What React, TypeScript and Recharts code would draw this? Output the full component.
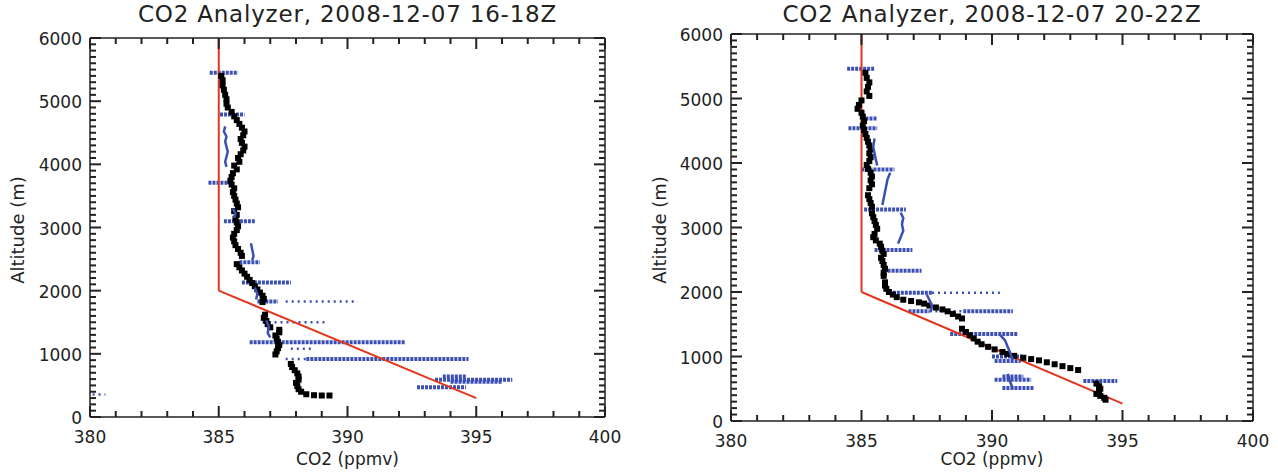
import { ComposedChart, Scatter, XAxis, YAxis, ReferenceLine } from 'recharts';

const co2Labels = [380, 385, 390, 395, 400];
const altLabels = [0, 1000, 2000, 3000, 4000, 5000, 6000];

// minor tick positions (1 ppmv, 100 m)
const co2Ticks = Array.from({ length: 21 }, (_, i) => 380 + i);
const altTicks = Array.from({ length: 61 }, (_, i) => i * 100);

// ---- 16-18Z flight: [co2 ppmv, altitude m]
const blackA: [number, number][] = [
  [385.1, 5400], [385.15, 5330], [385.15, 5250], [385.2, 5180], [385.25, 5100], [385.3, 5030],
  [385.3, 4960], [385.35, 4900], [385.5, 4830], [385.6, 4760], [385.7, 4700], [385.8, 4640],
  [385.9, 4580], [386.0, 4520], [385.95, 4460], [385.85, 4400], [385.9, 4340], [386.0, 4280],
  [385.95, 4220], [385.85, 4160], [385.75, 4100], [385.8, 4040], [385.6, 3980], [385.7, 3920],
  [385.55, 3860], [385.5, 3800], [385.45, 3740], [385.5, 3680], [385.6, 3620], [385.55, 3560],
  [385.6, 3500], [385.65, 3440], [385.7, 3380], [385.75, 3320], [385.6, 3260], [385.7, 3200],
  [385.65, 3140], [385.7, 3080], [385.75, 3020], [385.7, 2960], [385.6, 2900], [385.55, 2840],
  [385.6, 2780], [385.65, 2720], [385.75, 2660], [385.85, 2600], [385.9, 2550],
  [385.7, 2420], [385.8, 2370], [385.9, 2320], [386.0, 2270], [386.1, 2220], [386.2, 2170],
  [386.3, 2120], [386.4, 2070], [386.5, 2020], [386.6, 1970], [386.7, 1920], [386.75, 1870],
  [386.7, 1820],
  [386.8, 1620], [386.75, 1570], [386.85, 1520], [386.9, 1470], [387.0, 1420], [387.35, 1380],
  [387.35, 1340], [387.2, 1290], [387.25, 1240], [387.3, 1190], [387.35, 1140], [387.3, 1090],
  [387.25, 1040], [387.2, 990],
  [387.8, 840], [387.85, 790], [387.95, 740], [388.05, 690], [388.1, 640], [388.1, 590],
  [388.0, 540], [388.05, 490], [388.1, 440], [388.2, 400], [388.4, 360], [388.7, 345],
  [389.0, 340], [389.3, 340],
];
// level legs: [altitude, co2 from, co2 to]
const legsA: [number, number, number][] = [
  [5450, 384.65, 385.75], [4790, 385.05, 386.0], [3710, 384.6, 385.45], [3100, 385.2, 386.4],
  [2450, 385.8, 386.6], [2130, 385.9, 387.8], [1830, 386.5, 387.3], [1185, 386.2, 392.25],
  [920, 388.4, 394.7], [640, 393.7, 394.6], [590, 393.4, 396.4], [560, 394.0, 396.0],
  [470, 392.7, 394.6],
];
const thinLegsA: [number, number, number][] = [
  [1830, 387.6, 390.4], [1500, 386.7, 389.2], [920, 387.6, 388.4], [1080, 387.8, 388.6],
  [355, 380.1, 380.6],
];
const tracesA: [number, number][][] = [
  [[385.25, 4600], [385.2, 4520], [385.3, 4440], [385.25, 4360], [385.3, 4280], [385.35, 4200], [385.3, 4120], [385.25, 4040], [385.3, 3960]],
  [[385.55, 3300], [385.65, 3220], [385.6, 3150]],
  [[386.25, 2750], [386.3, 2650], [386.35, 2550], [386.3, 2480]],
  [[386.4, 2050], [386.5, 1950], [386.45, 1860]],
  [[386.85, 1530], [386.95, 1420], [386.9, 1330], [387.0, 1260]],
];
const modelA: [number, number][] = [[385, 6000], [385, 2000], [395, 300]];

// ---- 20-22Z flight
const blackB: [number, number][] = [
  [385.15, 5400], [385.2, 5320], [385.3, 5250], [385.25, 5180], [385.2, 5110], [385.3, 5040],
  [385.0, 4970], [384.9, 4900], [384.85, 4840], [385.0, 4780], [385.05, 4720], [385.1, 4650],
  [385.05, 4580], [385.1, 4510], [385.15, 4450], [385.2, 4390], [385.25, 4330], [385.3, 4270],
  [385.35, 4210], [385.3, 4150], [385.35, 4090], [385.3, 4030], [385.2, 3970], [385.25, 3910],
  [385.35, 3850], [385.4, 3790], [385.35, 3730], [385.4, 3670], [385.3, 3610],
  [385.25, 3500], [385.3, 3440], [385.35, 3380], [385.4, 3320],
  [385.4, 3220], [385.45, 3160], [385.5, 3100], [385.55, 3040], [385.6, 2980], [385.5, 2900],
  [385.45, 2850], [385.55, 2800], [385.7, 2750], [385.75, 2700], [385.8, 2640], [385.85, 2590],
  [385.75, 2530], [385.8, 2480], [385.85, 2420], [385.9, 2360], [385.85, 2300], [385.85, 2250],
  [385.9, 2150], [385.9, 2100], [385.95, 2050], [386.05, 2000], [386.2, 1960], [386.35, 1920],
  [386.6, 1880], [386.9, 1860], [387.2, 1840], [387.4, 1820], [387.6, 1790], [387.85, 1760],
  [388.1, 1730], [388.3, 1700], [388.5, 1660], [388.7, 1620], [388.85, 1590],
  [388.85, 1430], [389.0, 1380], [389.15, 1330], [389.3, 1280], [389.45, 1230], [389.6, 1190],
  [389.85, 1150], [390.1, 1110], [390.4, 1070], [390.6, 1040], [390.85, 1010], [391.2, 980],
  [391.5, 960], [391.8, 940], [392.1, 910], [392.4, 880], [392.7, 850], [393.0, 820], [393.3, 790],
  [394.0, 580], [394.1, 540], [394.15, 500], [394.1, 460], [394.0, 420], [394.15, 390],
  [394.3, 360], [394.35, 330],
];
const legsB: [number, number, number][] = [
  [5460, 384.45, 385.5], [4690, 385.0, 385.6], [4540, 384.5, 385.6], [3900, 385.0, 386.26],
  [3280, 385.1, 386.7], [2650, 385.5, 386.95], [2330, 386.0, 387.3], [1990, 386.2, 387.7],
  [1700, 386.8, 387.6], [1700, 388.9, 390.8], [1350, 388.4, 391.0], [1000, 390.0, 391.2],
  [930, 390.1, 391.1], [690, 390.4, 391.2], [640, 390.1, 391.5], [510, 390.4, 391.6],
  [620, 393.5, 394.8],
];
const thinLegsB: [number, number, number][] = [
  [1990, 387.7, 390.3], [1700, 387.6, 388.9],
];
const tracesB: [number, number][][] = [
  [[385.5, 4380], [385.45, 4250], [385.5, 4150], [385.55, 4050], [385.6, 3960]],
  [[386.1, 3850], [386.0, 3750], [385.95, 3650], [385.9, 3550], [385.85, 3450], [385.8, 3350]],
  [[386.5, 3230], [386.6, 3150], [386.55, 3050], [386.6, 2950], [386.5, 2850], [386.4, 2750]],
  [[387.5, 1960], [387.6, 1880], [387.7, 1780], [387.65, 1690]],
  [[390.3, 1340], [390.5, 1250], [390.6, 1150], [390.7, 1050], [390.8, 950]],
  [[390.6, 730], [390.7, 600], [390.8, 500]],
];
const modelB: [number, number][] = [[385, 6000], [385, 2000], [395, 270]];

const INK = '#222';
const BLUE = '#3c50b4';
const RED = '#e4361f';
const FONT = '"DejaVu Sans", sans-serif';
const X0 = 380, X1 = 400, Y0 = 0, Y1 = 6000;

const toPts = (a: [number, number][]) => a.map(([co2, alt]) => ({ co2, alt }));

function BottomLabel({ x, y, payload }: any) {
  if (!co2Labels.includes(payload.value)) return <g />;
  return <text x={x} y={y + 26} textAnchor="middle" fontSize={17} fontFamily={FONT} fill="#222">{payload.value}</text>;
}
function LeftLabel({ x, y, payload }: any) {
  if (!altLabels.includes(payload.value)) return <g />;
  return <text x={x - 8} y={y + 7} textAnchor="end" fontSize={17} fontFamily={FONT} fill="#222">{payload.value}</text>;
}

const tickLen = (major: boolean) => (major ? 11 : 6);

// axis band sizes; margins below are reduced by these so the plot box lands where wanted
const AX_B = 30;
const AX_T = 10;
const AX_L = 60;
const AX_R = 10;

type PanelProps = {
  left: number;
  width: number;
  box: { top: number; right: number; bottom: number; left: number };
  title: string;
  black: [number, number][];
  legs: [number, number, number][];
  thinLegs: [number, number, number][];
  traces: [number, number][][];
  model: [number, number][];
  yTitleX: number;
};

// inward frame ticks (IDL style) on all four sides, laid over the chart box
function FrameTicks({ width, box }: { width: number; box: PanelProps['box'] }) {
  const pl = box.left;
  const pt = box.top;
  const pw = width - box.left - box.right;
  const ph = 475 - box.top - box.bottom;
  const pr = pl + pw;
  const pb = pt + ph;
  const lines: JSX.Element[] = [];
  co2Ticks.forEach((v) => {
    const x = pl + ((v - X0) / (X1 - X0)) * pw;
    const len = tickLen(co2Labels.includes(v));
    lines.push(<line key={'xb' + v} x1={x} x2={x} y1={pb} y2={pb - len} />);
    lines.push(<line key={'xt' + v} x1={x} x2={x} y1={pt} y2={pt + len} />);
  });
  altTicks.forEach((v) => {
    const y = pt + ((Y1 - v) / (Y1 - Y0)) * ph;
    const len = tickLen(altLabels.includes(v));
    lines.push(<line key={'yl' + v} x1={pl} x2={pl + len} y1={y} y2={y} />);
    lines.push(<line key={'yr' + v} x1={pr} x2={pr - len} y1={y} y2={y} />);
  });
  return (
    <svg width={width} height={475} style={{ position: 'absolute', left: 0, top: 0, pointerEvents: 'none' }}>
      <g stroke={INK} strokeWidth={2}>{lines}</g>
    </svg>
  );
}

function Panel(p: PanelProps) {
  const { left, width, box } = p;
  const plotL = left + box.left;
  const plotW = width - box.left - box.right;
  const margin = { top: box.top - AX_T, right: box.right - AX_R, bottom: box.bottom - AX_B, left: box.left - AX_L };
  const axisLine = { stroke: INK, strokeWidth: 1.5 };
  const common = { xAxisId: 'b', yAxisId: 'l' };
  return (
    <>
      <div style={{ position: 'absolute', left: plotL - 50, top: 0, width: plotW + 100, textAlign: 'center', fontSize: 23, letterSpacing: 0.8, lineHeight: '28px', color: '#222' }}>
        {p.title}
      </div>
      <div style={{ position: 'absolute', left, top: 0, width, height: 475 }}>
        <ComposedChart width={width} height={475} margin={margin}>
          <XAxis xAxisId="b" type="number" dataKey="co2" domain={[X0, X1]} allowDataOverflow ticks={co2Ticks} interval={0} height={AX_B} tickSize={0} tickMargin={0} tickLine={false} axisLine={axisLine} tick={<BottomLabel />} />
          <XAxis xAxisId="t" orientation="top" type="number" dataKey="co2" domain={[X0, X1]} allowDataOverflow height={AX_T} tickLine={false} tick={false} axisLine={axisLine} />
          <YAxis yAxisId="l" type="number" dataKey="alt" domain={[Y0, Y1]} allowDataOverflow ticks={altTicks} interval={0} width={AX_L} tickSize={0} tickMargin={0} tickLine={false} axisLine={axisLine} tick={<LeftLabel />} />
          <YAxis yAxisId="r" orientation="right" type="number" dataKey="alt" domain={[Y0, Y1]} allowDataOverflow width={AX_R} tickLine={false} tick={false} axisLine={axisLine} />
          <Scatter {...common} data={toPts(p.black)} isAnimationActive={false}
            shape={(s: any) => <rect x={s.cx - 3} y={s.cy - 3} width={6} height={6} fill="#000" />} />
          {p.legs.map(([alt, a, b], i) => (
            <ReferenceLine key={'l' + i} {...common} segment={[{ x: a, y: alt }, { x: b, y: alt }]} stroke={BLUE} strokeWidth={4} strokeDasharray="3 1" ifOverflow="visible" />
          ))}
          {p.thinLegs.map(([alt, a, b], i) => (
            <ReferenceLine key={'t' + i} {...common} segment={[{ x: a, y: alt }, { x: b, y: alt }]} stroke={BLUE} strokeWidth={2.5} strokeDasharray="2 4" ifOverflow="visible" />
          ))}
          {p.traces.map((tr, i) => (
            <Scatter key={'r' + i} {...common} data={toPts(tr)} isAnimationActive={false}
              line={{ stroke: BLUE, strokeWidth: 2.5 }} shape={() => <g />} />
          ))}
          <ReferenceLine {...common} segment={[{ x: p.model[0][0], y: p.model[0][1] }, { x: p.model[1][0], y: p.model[1][1] }]} stroke={RED} strokeWidth={2} ifOverflow="visible" />
          <ReferenceLine {...common} segment={[{ x: p.model[1][0], y: p.model[1][1] }, { x: p.model[2][0], y: p.model[2][1] }]} stroke={RED} strokeWidth={2} ifOverflow="visible" />
          {/* anchor so the mirrored axes have something bound to them */}
          <Scatter xAxisId="t" yAxisId="r" data={toPts(p.model)} isAnimationActive={false} shape={() => <g />} />
        </ComposedChart>
        <FrameTicks width={width} box={box} />
      </div>
      <div style={{ position: 'absolute', left: plotL + plotW / 2 - 80, top: 450, width: 160, textAlign: 'center', fontSize: 17, lineHeight: '18px', color: '#222' }}>
        CO2 (ppmv)
      </div>
      <div style={{ position: 'absolute', left: p.yTitleX - 100, top: 230 - 11, width: 200, height: 22, textAlign: 'center', fontSize: 18, lineHeight: '22px', color: '#222', transform: 'rotate(-90deg)' }}>
        Altitude (m)
      </div>
    </>
  );
}

export default function App() {
  return (
    <div style={{ position: 'absolute', left: 0, top: 0, width: 1278, height: 475, background: '#fff', fontFamily: FONT, overflow: 'hidden' }}>
      <Panel left={0} width={640} box={{ top: 38, right: 35, bottom: 58, left: 90 }}
        title="CO2 Analyzer, 2008-12-07 16-18Z" black={blackA} legs={legsA} thinLegs={thinLegsA}
        traces={tracesA} model={modelA} yTitleX={18} />
      <Panel left={640} width={638} box={{ top: 34, right: 25, bottom: 54, left: 91 }}
        title="CO2 Analyzer, 2008-12-07 20-22Z" black={blackB} legs={legsB} thinLegs={thinLegsB}
        traces={tracesB} model={modelB} yTitleX={660} />
    </div>
  );
}
